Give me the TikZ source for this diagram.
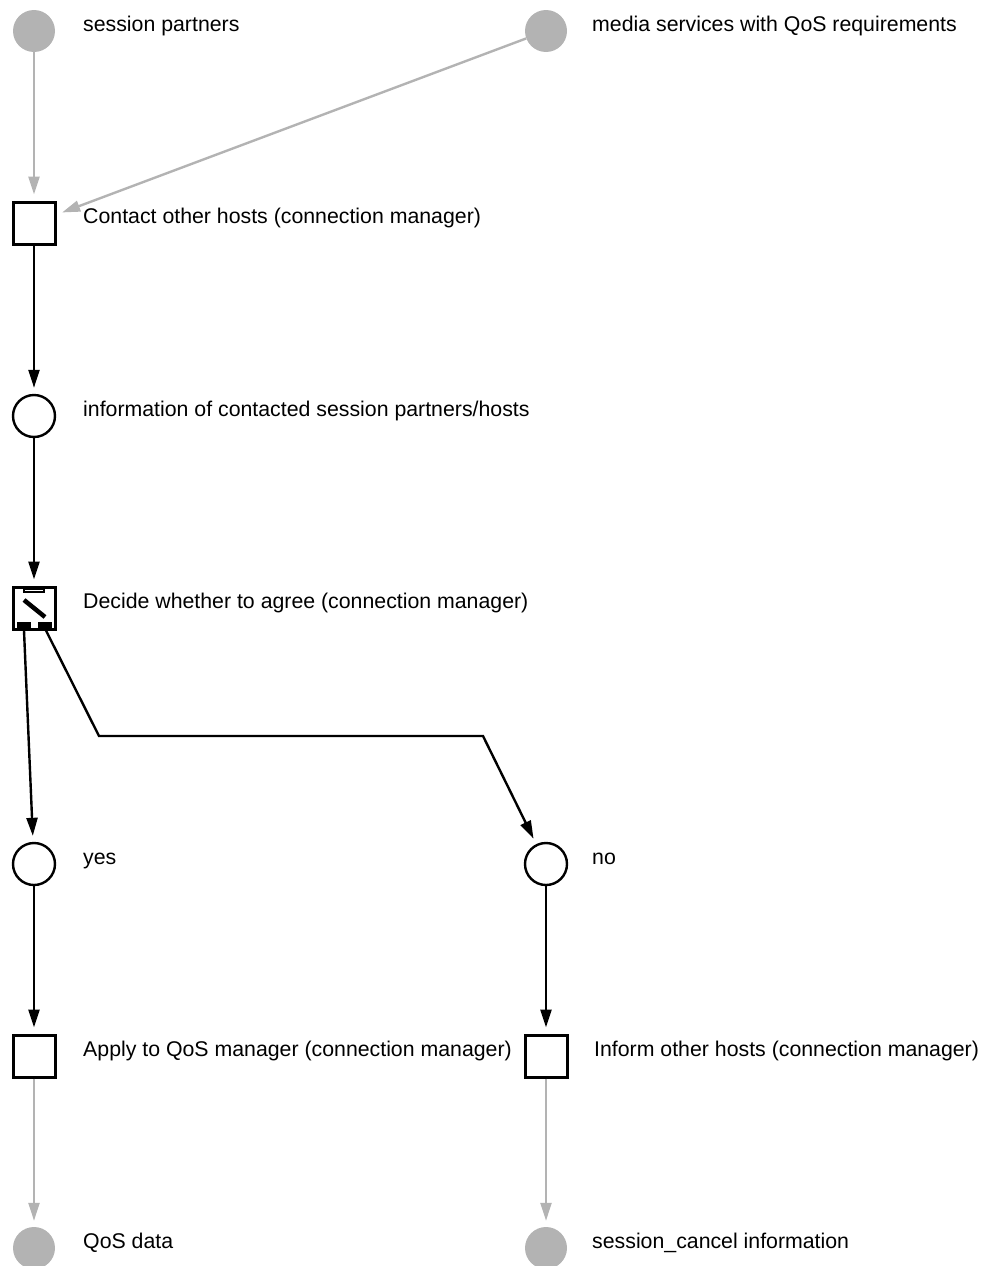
\documentclass[tikz,border=0pt]{standalone}
\usepackage{fontspec}
\setmainfont{Liberation Sans}
\usetikzlibrary{arrows.meta}
\definecolor{lightgrey}{HTML}{B3B3B3}
\begin{document}
\begin{tikzpicture}[x=1pt,y=-1pt,
  every node/.style={inner sep=0pt},
  place/.style={circle,draw=black,line width=2.4pt,minimum size=42pt,fill=white},
  extplace/.style={circle,fill=lightgrey,minimum size=42pt},
  trans/.style={rectangle,draw=black,line width=3pt,minimum size=42pt,fill=white},
  lbl/.style={anchor=base west,font=\fontsize{21.3}{25}\selectfont},
  flow/.style={draw=black,line width=2.4pt,-{Triangle[length=18pt,width=11pt]},shorten >=6pt},
  extflow/.style={draw=lightgrey,line width=2.4pt,-{Triangle[length=18pt,width=11pt]},shorten >=6pt}
]
\useasboundingbox (0,0) rectangle (984,1266);

% places and transitions
\node[extplace] (partners) at (34,31) {};
\node[extplace] (media) at (546,31) {};
\node[trans] (contact) at (34,223) {};
\node[place] (info) at (34,416) {};
\node[trans] (decide) at (34,608) {};
\node[place] (yes) at (34,864) {};
\node[place] (no) at (546,864) {};
\node[trans] (apply) at (34,1056) {};
\node[trans] (inform) at (546,1056) {};
\node[extplace] (qos) at (34,1248) {};
\node[extplace] (cancel) at (546,1248) {};

% decision symbol inside the transition
\begin{scope}[shift={(decide.center)}]
  \draw[line width=1.5pt] (-10,-19) rectangle (10,-16);
  \draw[line width=4.5pt] (-10,-8) -- (11,9);
  \fill (-17,14) rectangle (-3,21);
  \fill (4,14) rectangle (18,21);
\end{scope}

% labels
\node[lbl] (lpartners) at (83,31) {session partners};
\node[lbl] (lmedia) at (592,31) {media services with QoS requirements};
\node[lbl] (lcontact) at (83,223) {Contact other hosts (connection manager)};
\node[lbl] (linfo) at (83,416) {information of contacted session partners/hosts};
\node[lbl] (ldecide) at (83,608) {Decide whether to agree (connection manager)};
\node[lbl] (lyes) at (83,864) {yes};
\node[lbl] (lno) at (592,864) {no};
\node[lbl] (lapply) at (83,1056) {Apply to QoS manager (connection manager)};
\node[lbl] (linform) at (594,1056) {Inform other hosts (connection manager)};
\node[lbl] (lqos) at (83,1248) {QoS data};
\node[lbl] (lcancel) at (592,1248) {session\_cancel information};

% ports and bends of the branch arcs
\coordinate (dl) at ([xshift=-10pt]decide.south);
\coordinate (dr) at ([xshift=12pt]decide.south);
\coordinate (b1) at (99,736);
\coordinate (b2) at (483,736);

% arcs
\draw[extflow] (partners) -- (contact);
\draw[extflow] (media) -- (contact);
\draw[flow] (contact) -- (info);
\draw[flow] (info) -- (decide);
\draw[flow] (dl) -- (yes);
\draw[flow] (dr) -- (b1) -- (b2) -- (no);
\draw[flow] (yes) -- (apply);
\draw[flow] (no) -- (inform);
\draw[extflow] (apply) -- (qos);
\draw[extflow] (inform) -- (cancel);
\end{tikzpicture}
\end{document}
